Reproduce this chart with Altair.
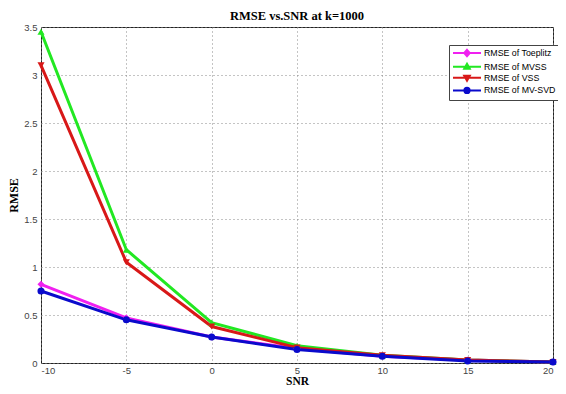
import altair as alt
import pandas as pd

snr = [-10, -5, 0, 5, 10, 15, 20]
series = ["RMSE of Toeplitz", "RMSE of MVSS", "RMSE of VSS", "RMSE of MV-SVD"]
toeplitz = [0.82, 0.47, 0.27, 0.15, 0.07, 0.03, 0.01]
mvss = [3.45, 1.18, 0.42, 0.18, 0.08, 0.03, 0.01]
vss = [3.10, 1.05, 0.38, 0.16, 0.08, 0.03, 0.01]
mvsvd = [0.75, 0.45, 0.27, 0.14, 0.07, 0.02, 0.01]
colors = ["#F020F0", "#22E822", "#D81818", "#0A0ACC"]
x_ticks = [-10, -5, 0, 5, 10, 15, 20]
y_ticks = [0, 0.5, 1, 1.5, 2, 2.5, 3, 3.5]

rows = []
for name, vals in zip(series, [toeplitz, mvss, vss, mvsvd]):
    for s, v in zip(snr, vals):
        rows.append({"snr": s, "rmse": v, "series": name})
df = pd.DataFrame(rows)

marker_shapes = ["diamond", "triangle-up", "triangle-down", "circle"]
# legend symbols: a line segment with the marker drawn on it (stroked outline + inner fill)
legend_shapes = [
    "M-3.5,0H3.5M0,-0.8L0.7,0L0,0.8L-0.7,0ZM0,-0.3L0.25,0L0,0.3L-0.25,0Z",
    "M-3.5,0H3.5M0,-0.75L0.7,0.5L-0.7,0.5ZM0,-0.2L0.25,0.25L-0.25,0.25Z",
    "M-3.5,0H3.5M0,0.75L0.7,-0.5L-0.7,-0.5ZM0,0.2L0.25,-0.25L-0.25,-0.25Z",
    "M-3.5,0H3.5M-0.65,0A0.65,0.65,0,1,0,0.65,0A0.65,0.65,0,1,0,-0.65,0Z"
    "M-0.25,0A0.25,0.25,0,1,0,0.25,0A0.25,0.25,0,1,0,-0.25,0Z",
]

x_enc = alt.X("snr:Q", scale=alt.Scale(domain=[-10, 20], nice=False),
              axis=alt.Axis(values=x_ticks, title="SNR", labelExpr="datum.value"))
y_enc = alt.Y("rmse:Q", scale=alt.Scale(domain=[0, 3.5], nice=False),
              axis=alt.Axis(values=y_ticks, title="RMSE", labelExpr="datum.value"))

color_scale = alt.Scale(domain=series, range=colors)
leg = alt.Legend(title=None)

legend_layer = alt.Chart(df).transform_filter("datum.snr > 1000").mark_point(
    filled=False, opacity=1, strokeWidth=2
).encode(
    x=x_enc, y=y_enc,
    color=alt.Color("series:N", scale=color_scale, legend=leg),
    shape=alt.Shape("series:N", scale=alt.Scale(domain=series, range=legend_shapes), legend=leg),
)

lines = alt.Chart(df).mark_line(strokeWidth=3).encode(
    x=x_enc, y=y_enc,
    color=alt.Color("series:N", scale=color_scale, legend=leg),
)

point_layers = []
for name, shp in zip(series, marker_shapes):
    point_layers.append(
        alt.Chart(df).transform_filter(alt.datum.series == name).mark_point(
            filled=True, size=50, opacity=1, shape=shp
        ).encode(
            x=x_enc, y=y_enc,
            color=alt.Color("series:N", scale=color_scale, legend=leg),
        )
    )

chart = alt.layer(legend_layer, lines, *point_layers).properties(
    width=512, height=336,
    autosize=alt.AutoSizeParams(type="none"),
    padding={"left": 33, "top": 19, "right": 5, "bottom": 23},
    title=alt.TitleParams("RMSE vs.SNR at k=1000", font="Liberation Serif", fontSize=12.5,
                          fontWeight="bold", color="#000", offset=0, anchor="middle"),
).configure_view(
    stroke="#222", strokeWidth=1
).configure_axis(
    labelFont="Liberation Sans", labelFontSize=9.5, labelColor="#444",
    titleFont="Liberation Serif", titleFontSize=12, titleFontWeight="bold", titleColor="#000",
    grid=True, gridColor="#888", gridDash=[1, 3], gridWidth=1,
    domain=False, ticks=False,
).configure_axisX(
    labelPadding=2, titlePadding=1, titleFontSize=11.5,
).configure_axisY(
    labelPadding=4, titlePadding=3,
).configure_legend(
    orient="none", legendX=408, legendY=18,
    fillColor="white", strokeColor="#444", padding=3,
    labelFont="Liberation Sans", labelFontSize=8.8, labelColor="#000",
    symbolSize=64, symbolStrokeWidth=2, symbolOffset=10, labelOffset=12,
    rowPadding=-1.3, cornerRadius=0,
)

chart.save("out.html", embed_options={"renderer": "svg", "actions": False})
